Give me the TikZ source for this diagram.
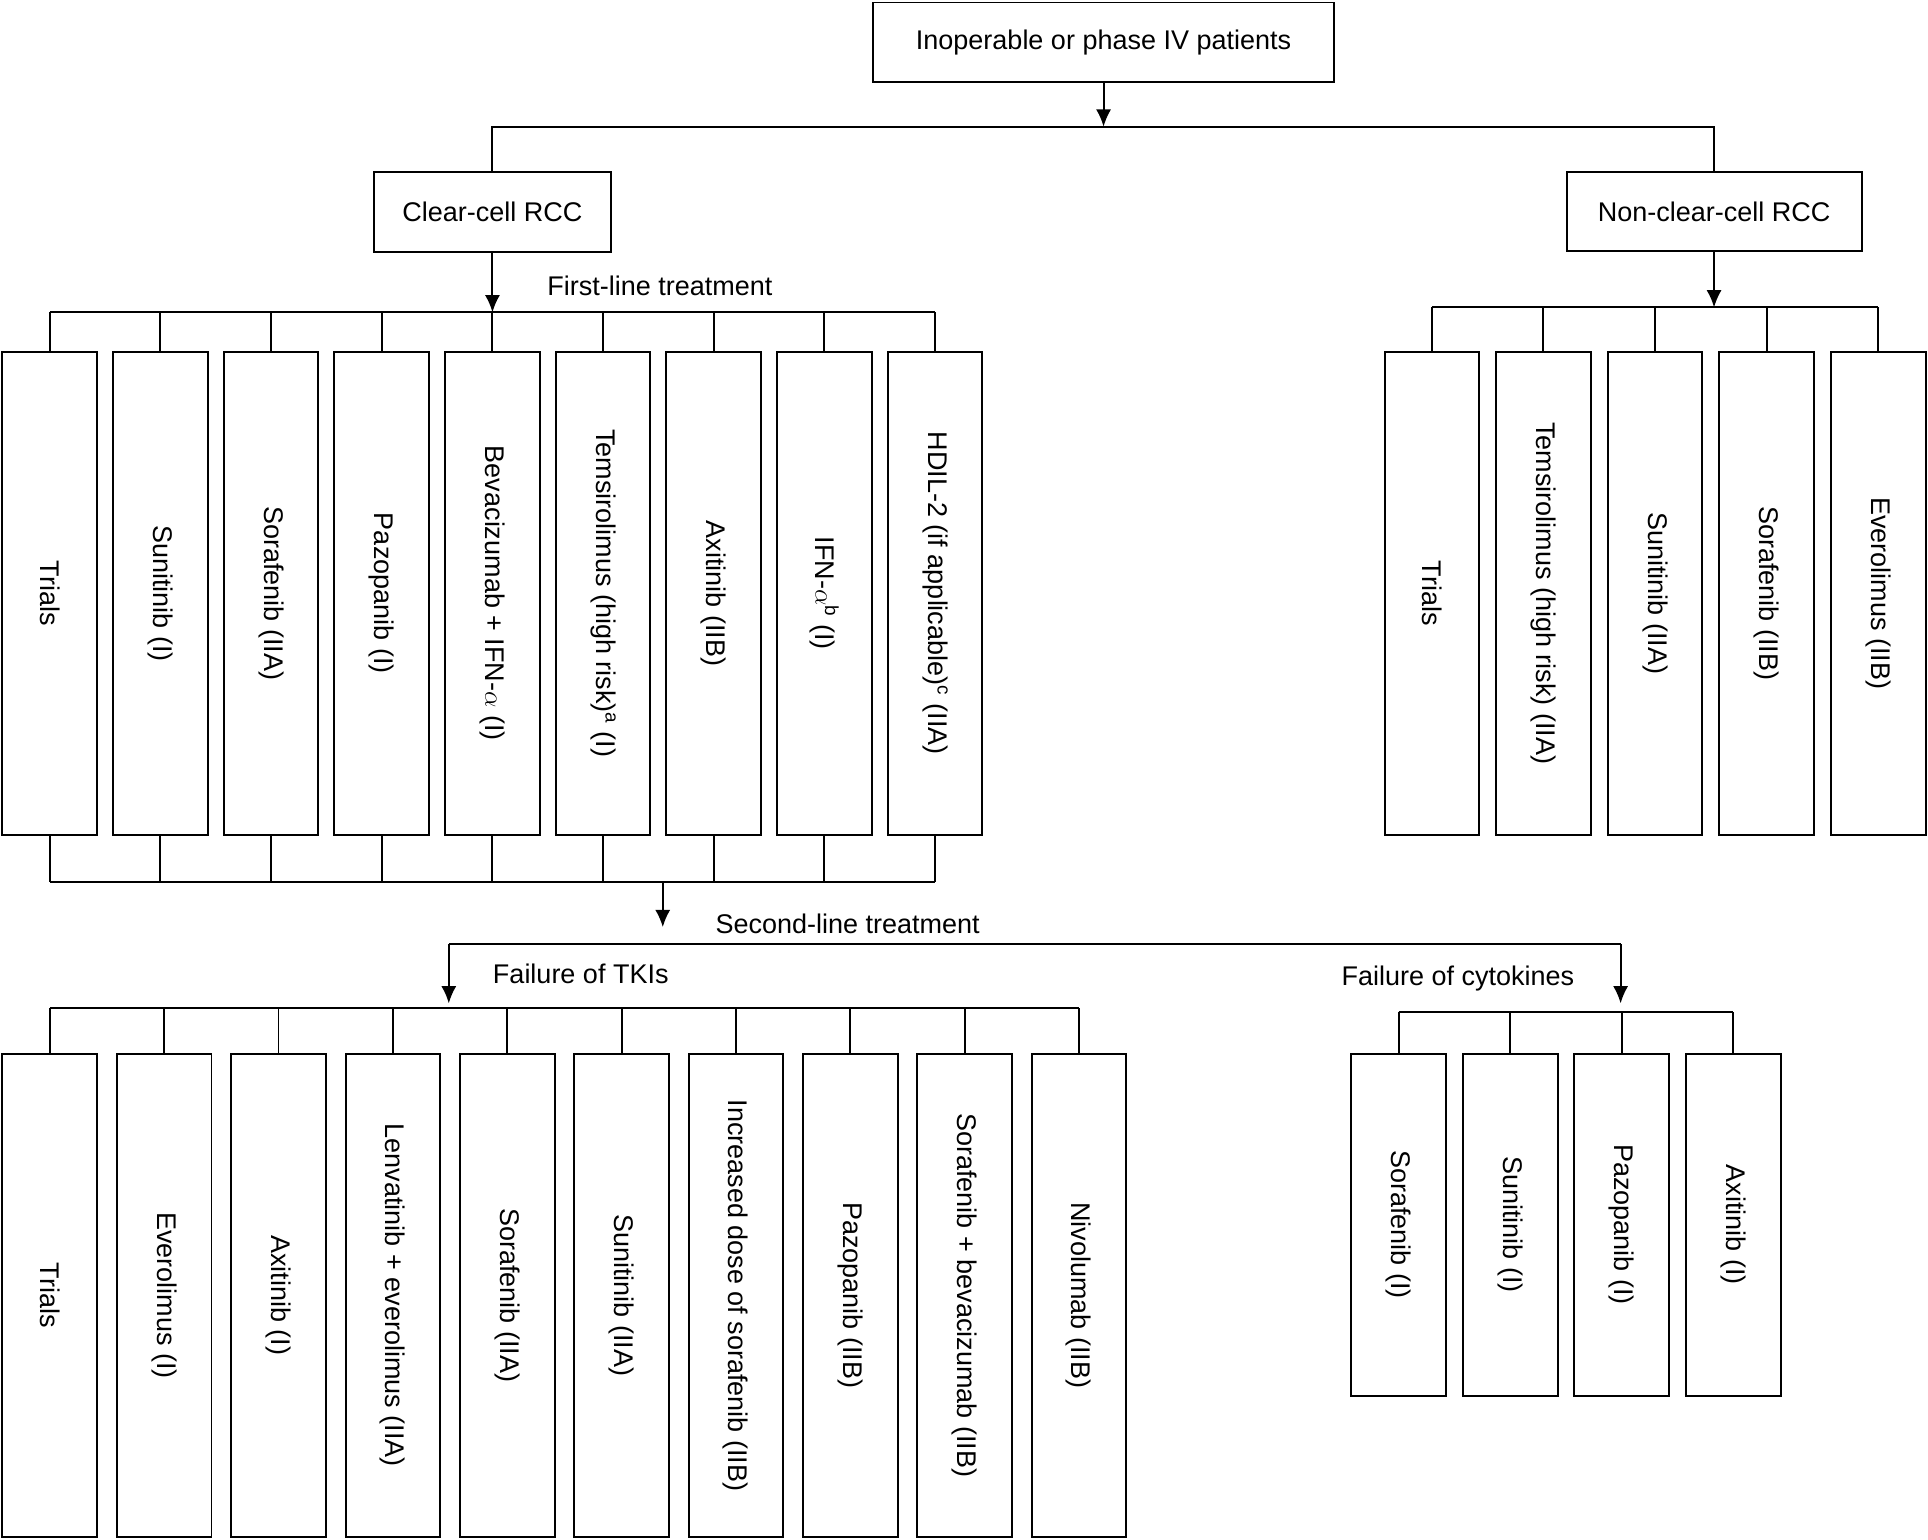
\documentclass[tikz,border=0pt]{standalone}
\usepackage{fontspec}
\setmainfont{Liberation Sans}
\usetikzlibrary{arrows.meta}
\tikzstyle{line} = [draw, line width=0.9pt]
\tikzstyle{arrow} = [draw, line width=0.9pt, -{Latex[length=8pt,width=7pt]}]
\tikzstyle{block} = [draw, line width=0.9pt, rectangle, text centered, inner sep=0pt]
\tikzstyle{tall} = [block, minimum width=1.54cm, minimum height=7.86cm]
\tikzstyle{short} = [block, minimum width=1.54cm, minimum height=5.56cm]
\tikzstyle{lbl} = [anchor=west, inner sep=0pt]

\begin{document}
\begin{tikzpicture}[x=0.02cm, y=-0.02cm, font=\fontsize{12.5}{14}\selectfont]
        \useasboundingbox (0,0) rectangle (1568,1252);
        % top
        \node[block, minimum width=7.5cm, minimum height=1.3cm] (origin) at (897.5,34.5) {Inoperable or phase IV patients};
        \node[block, minimum width=3.86cm, minimum height=1.3cm] (clear) at (400.5,172.5) {Clear-cell RCC};
        \node[block, minimum width=4.8cm, minimum height=1.28cm] (nonclear) at (1394,172) {Non-clear-cell RCC};
        \coordinate (split) at (897.5,103);
        \path[arrow] (origin) -- (split);
        \path[line] (clear.north) |- (split) -| (nonclear.north);
        % first-line, clear cell
        \foreach \n/\t [count=\i] in {f1/Trials, f2/Sunitinib (I), f3/Sorafenib (IIA), f4/Pazopanib (I),
            f5/Bevacizumab + IFN-$\alpha$ (I), f6/Temsirolimus (high risk)\textsuperscript{a} (I),
            f7/Axitinib (IIB), f8/IFN-$\alpha$\textsuperscript{b} (I), f9/HDIL-2 (if applicable)\textsuperscript{c} (IIA)}
            \node[tall] (\n) at ({40.5+90*(\i-1)},482.5) {\rotatebox{-90}{\t}};
        \coordinate (fbar) at (400.5,254);
        \coordinate (fjoin) at (539,717);
        \path[arrow] (clear) -- (fbar) node[lbl, pos=0.55, xshift=25pt] {First-line treatment};
        \path[line] (f1.north |- fbar) -- (f9.north |- fbar);
        \path[line] (f1.south |- fjoin) -- (f9.south |- fjoin);
        \foreach \n in {f1,f2,f3,f4,f5,f6,f7,f8,f9} {
            \path[line] (\n.north) -- (\n.north |- fbar);
            \path[line] (\n.south) -- (\n.south |- fjoin);
        }
        % first-line, non-clear cell
        \foreach \n/\t [count=\i] in {n1/Trials, n2/Temsirolimus (high risk) (IIA), n3/Sunitinib (IIA),
            n4/Sorafenib (IIB), n5/Everolimus (IIB)}
            \node[tall] (\n) at ({1164.5+90.75*(\i-1)},482.5) {\rotatebox{-90}{\t}};
        \coordinate (nbar) at (1394,250);
        \path[arrow] (nonclear) -- (nbar);
        \path[line] (n1.north |- nbar) -- (n5.north |- nbar);
        \foreach \n in {n1,n2,n3,n4,n5}
            \path[line] (\n.north) -- (\n.north |- nbar);
        % second-line
        \coordinate (second) at (539,768);
        \coordinate (tki) at (365,816);
        \coordinate (cyto) at (1318,816);
        \path[arrow] (fjoin) -- (539,754) node[lbl, midway, xshift=24pt, yshift=-9pt] {Second-line treatment};
        \path[line] (tki |- second) -- (cyto |- second);
        \path[arrow] (tki |- second) -- (tki) node[lbl, midway, xshift=20pt] {Failure of TKIs};
        \path[arrow] (cyto |- second) -- (cyto) node[midway, anchor=east, inner sep=0pt, xshift=-21pt, yshift=-2pt] {Failure of cytokines};
        % failure of TKIs
        \foreach \n/\t [count=\i] in {t1/Trials, t2/Everolimus (I), t3/Axitinib (I), t4/Lenvatinib + everolimus (IIA),
            t5/Sorafenib (IIA), t6/Sunitinib (IIA), t7/Increased dose of sorafenib (IIB), t8/Pazopanib (IIB),
            t9/Sorafenib + bevacizumab (IIB), t10/Nivolumab (IIB)}
            \node[tall] (\n) at ({40.5+93*(\i-1)},1053.5) {\rotatebox{-90}{\t}};
        \coordinate (tbar) at (365,820);
        \path[line] (t1.north |- tbar) -- (t10.north |- tbar);
        \foreach \n in {t1,t2,t3,t4,t5,t6,t7,t8,t9,t10}
            \path[line] (\n.north) -- (\n.north |- tbar);
        % failure of cytokines
        \foreach \n/\t [count=\i] in {c1/Sorafenib (I), c2/Sunitinib (I), c3/Pazopanib (I), c4/Axitinib (I)}
            \node[short] (\n) at ({1137.5+90.7*(\i-1)},996) {\rotatebox{-90}{\t}};
        \coordinate (cbar) at (1318,823);
        \path[line] (c1.north |- cbar) -- (c4.north |- cbar);
        \foreach \n in {c1,c2,c3,c4}
            \path[line] (\n.north) -- (\n.north |- cbar);
\end{tikzpicture}
\end{document}
